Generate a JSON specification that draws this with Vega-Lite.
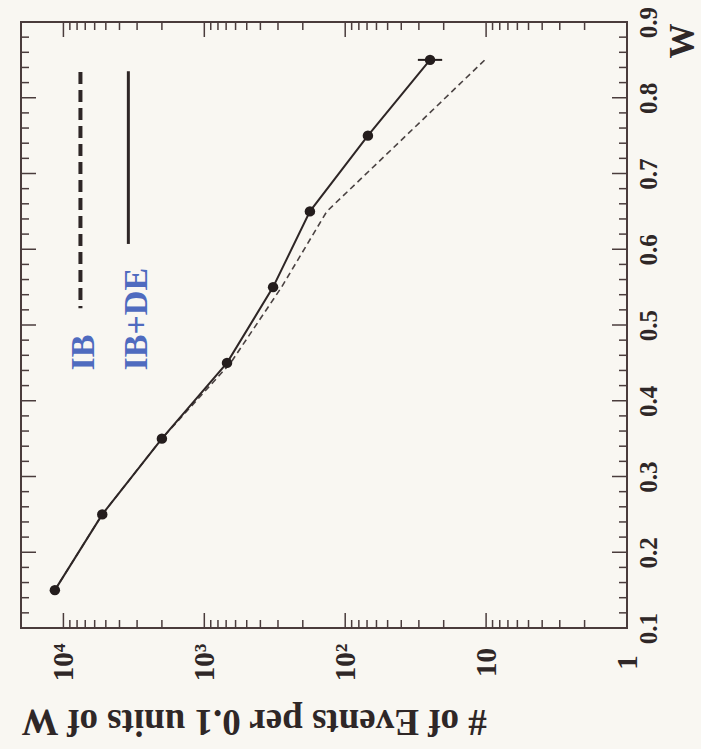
{
  "$schema": "https://vega.github.io/schema/vega-lite/v6.json",
  "width": 606,
  "height": 606,
  "autosize": {"type": "none"},
  "padding": {"left": 21, "top": 22, "right": 74, "bottom": 121},
  "background": "#f9f7f2",
  "config": {
    "view": {"stroke": "#4a3c3c", "strokeWidth": 2},
    "axis": {
      "grid": false,
      "domain": false,
      "labelFont": "Liberation Serif",
      "titleFont": "Liberation Serif",
      "labelFontWeight": "bold",
      "titleFontWeight": "bold",
      "labelColor": "#2f2727",
      "titleColor": "#2f2727"
    }
  },
  "datasets": {
    "curves": [
      {"model": "IB+DE", "W": 0.15, "events": 11500},
      {"model": "IB+DE", "W": 0.25, "events": 5300},
      {"model": "IB+DE", "W": 0.35, "events": 2000},
      {"model": "IB+DE", "W": 0.45, "events": 690},
      {"model": "IB+DE", "W": 0.55, "events": 325},
      {"model": "IB+DE", "W": 0.65, "events": 178},
      {"model": "IB+DE", "W": 0.75, "events": 69},
      {"model": "IB+DE", "W": 0.85, "events": 25},
      {"model": "IB", "W": 0.15, "events": 11500},
      {"model": "IB", "W": 0.25, "events": 5300},
      {"model": "IB", "W": 0.35, "events": 2000},
      {"model": "IB", "W": 0.45, "events": 650},
      {"model": "IB", "W": 0.55, "events": 283},
      {"model": "IB", "W": 0.65, "events": 135},
      {"model": "IB", "W": 0.75, "events": 37},
      {"model": "IB", "W": 0.85, "events": 10.2}
    ],
    "errors": [
      {"W": 0.85, "events": 30.5, "events2": 20.5}
    ],
    "legendLines": [
      {"model": "IB", "events": 7570, "W": 0.834, "W2": 0.522},
      {"model": "IB+DE", "events": 3460, "W": 0.835, "W2": 0.607}
    ],
    "legendText": [
      {"label": "IB", "events": 7100, "W": 0.44},
      {"label": "IB+DE", "events": 3000, "W": 0.44}
    ],
    "xTicks": [
      {"v": 1, "kind": "major"}, {"v": 10, "kind": "major"}, {"v": 100, "kind": "major"}, {"v": 1000, "kind": "major"}, {"v": 10000, "kind": "major"},
      {"v": 2, "kind": "minor"}, {"v": 3, "kind": "minor"}, {"v": 4, "kind": "minor"}, {"v": 5, "kind": "minor"}, {"v": 6, "kind": "minor"}, {"v": 7, "kind": "minor"}, {"v": 8, "kind": "minor"}, {"v": 9, "kind": "minor"},
      {"v": 20, "kind": "minor"}, {"v": 30, "kind": "minor"}, {"v": 40, "kind": "minor"}, {"v": 50, "kind": "minor"}, {"v": 60, "kind": "minor"}, {"v": 70, "kind": "minor"}, {"v": 80, "kind": "minor"}, {"v": 90, "kind": "minor"},
      {"v": 200, "kind": "minor"}, {"v": 300, "kind": "minor"}, {"v": 400, "kind": "minor"}, {"v": 500, "kind": "minor"}, {"v": 600, "kind": "minor"}, {"v": 700, "kind": "minor"}, {"v": 800, "kind": "minor"}, {"v": 900, "kind": "minor"},
      {"v": 2000, "kind": "minor"}, {"v": 3000, "kind": "minor"}, {"v": 4000, "kind": "minor"}, {"v": 5000, "kind": "minor"}, {"v": 6000, "kind": "minor"}, {"v": 7000, "kind": "minor"}, {"v": 8000, "kind": "minor"}, {"v": 9000, "kind": "minor"}
    ],
    "wTicks": [
      {"w": 0.2, "kind": "major"}, {"w": 0.3, "kind": "major"}, {"w": 0.4, "kind": "major"}, {"w": 0.5, "kind": "major"}, {"w": 0.6, "kind": "major"}, {"w": 0.7, "kind": "major"}, {"w": 0.8, "kind": "major"},
      {"w": 0.12, "kind": "minor"}, {"w": 0.14, "kind": "minor"}, {"w": 0.16, "kind": "minor"}, {"w": 0.18, "kind": "minor"},
      {"w": 0.22, "kind": "minor"}, {"w": 0.24, "kind": "minor"}, {"w": 0.26, "kind": "minor"}, {"w": 0.28, "kind": "minor"},
      {"w": 0.32, "kind": "minor"}, {"w": 0.34, "kind": "minor"}, {"w": 0.36, "kind": "minor"}, {"w": 0.38, "kind": "minor"},
      {"w": 0.42, "kind": "minor"}, {"w": 0.44, "kind": "minor"}, {"w": 0.46, "kind": "minor"}, {"w": 0.48, "kind": "minor"},
      {"w": 0.52, "kind": "minor"}, {"w": 0.54, "kind": "minor"}, {"w": 0.56, "kind": "minor"}, {"w": 0.58, "kind": "minor"},
      {"w": 0.62, "kind": "minor"}, {"w": 0.64, "kind": "minor"}, {"w": 0.66, "kind": "minor"}, {"w": 0.68, "kind": "minor"},
      {"w": 0.72, "kind": "minor"}, {"w": 0.74, "kind": "minor"}, {"w": 0.76, "kind": "minor"}, {"w": 0.78, "kind": "minor"},
      {"w": 0.82, "kind": "minor"}, {"w": 0.84, "kind": "minor"}, {"w": 0.86, "kind": "minor"}, {"w": 0.88, "kind": "minor"}
    ]
  },
  "resolve": {"axis": {"x": "independent", "y": "independent"}},
  "layer": [
    {
      "data": {"name": "curves"},
      "transform": [{"filter": "datum.model === 'IB'"}],
      "mark": {"type": "line", "color": "#4a4242", "strokeWidth": 1.6, "strokeDash": [6, 4]},
      "encoding": {
        "x": {
          "field": "events", "type": "quantitative",
          "scale": {"type": "log", "domain": [1, 20000], "reverse": true, "nice": false},
          "axis": {
            "orient": "bottom",
            "values": [1, 10, 100, 1000, 10000],
            "labelExpr": "datum.value == 10000 ? '10⁴' : datum.value == 1000 ? '10³' : datum.value == 100 ? '10²' : datum.value == 10 ? '10' : '1'",
            "labelAngle": 270,
            "labelAlign": "center",
            "labelBaseline": "middle",
            "labelFontSize": 29,
            "labelPadding": 34,
            "ticks": false,
            "tickSize": 0,
            "labelFlush": false,
            "labelOverlap": false,
            "title": "# of Events per 0.1 units of W",
            "titleFontSize": 37,
            "titleAngle": 180,
            "titleAlign": "right",
            "titleBaseline": "middle",
            "titleX": 0,
            "titleY": 92
          }
        },
        "y": {
          "field": "W", "type": "quantitative",
          "scale": {"domain": [0.1, 0.9], "nice": false, "zero": false},
          "axis": {
            "orient": "right",
            "values": [0.1, 0.2, 0.3, 0.4, 0.5, 0.6, 0.7, 0.8, 0.9],
            "format": ".1f",
            "labelAngle": 270,
            "labelAlign": "center",
            "labelBaseline": "middle",
            "labelFontSize": 25,
            "labelPadding": 21,
            "ticks": false,
            "tickSize": 0,
            "labelFlush": false,
            "labelOverlap": false,
            "title": "W",
            "titleFontSize": 35,
            "titleAngle": 270,
            "titleAlign": "right",
            "titleBaseline": "middle",
            "titleX": 55,
            "titleY": 1
          }
        }
      }
    },
    {
      "data": {"name": "xTicks"},
      "transform": [{"filter": "datum.kind === 'major'"}],
      "mark": {"type": "rule", "color": "#4a3c3c", "strokeWidth": 1.5},
      "encoding": {
        "x": {"field": "v", "type": "quantitative", "scale": {"type": "log", "domain": [1, 20000], "reverse": true, "nice": false}, "axis": null},
        "y": {"datum": 0.1, "type": "quantitative", "scale": {"domain": [0.1, 0.9], "nice": false, "zero": false}, "axis": null},
        "y2": {"datum": 0.1198}
      }
    },
    {
      "data": {"name": "xTicks"},
      "transform": [{"filter": "datum.kind === 'minor'"}],
      "mark": {"type": "rule", "color": "#4a3c3c", "strokeWidth": 1.5},
      "encoding": {
        "x": {"field": "v", "type": "quantitative", "scale": {"type": "log", "domain": [1, 20000], "reverse": true, "nice": false}, "axis": null},
        "y": {"datum": 0.1, "type": "quantitative", "scale": {"domain": [0.1, 0.9], "nice": false, "zero": false}, "axis": null},
        "y2": {"datum": 0.1106}
      }
    },
    {
      "data": {"name": "xTicks"},
      "transform": [{"filter": "datum.kind === 'major'"}],
      "mark": {"type": "rule", "color": "#4a3c3c", "strokeWidth": 1.5},
      "encoding": {
        "x": {"field": "v", "type": "quantitative", "scale": {"type": "log", "domain": [1, 20000], "reverse": true, "nice": false}, "axis": null},
        "y": {"datum": 0.9, "type": "quantitative", "scale": {"domain": [0.1, 0.9], "nice": false, "zero": false}, "axis": null},
        "y2": {"datum": 0.8802}
      }
    },
    {
      "data": {"name": "xTicks"},
      "transform": [{"filter": "datum.kind === 'minor'"}],
      "mark": {"type": "rule", "color": "#4a3c3c", "strokeWidth": 1.5},
      "encoding": {
        "x": {"field": "v", "type": "quantitative", "scale": {"type": "log", "domain": [1, 20000], "reverse": true, "nice": false}, "axis": null},
        "y": {"datum": 0.9, "type": "quantitative", "scale": {"domain": [0.1, 0.9], "nice": false, "zero": false}, "axis": null},
        "y2": {"datum": 0.8894}
      }
    },
    {
      "data": {"name": "wTicks"},
      "transform": [{"filter": "datum.kind === 'major'"}],
      "mark": {"type": "rule", "color": "#4a3c3c", "strokeWidth": 1.5},
      "encoding": {
        "y": {"field": "w", "type": "quantitative", "scale": {"domain": [0.1, 0.9], "nice": false, "zero": false}, "axis": null},
        "x": {"datum": 20000, "type": "quantitative", "scale": {"type": "log", "domain": [1, 20000], "reverse": true, "nice": false}, "axis": null},
        "x2": {"datum": 15650}
      }
    },
    {
      "data": {"name": "wTicks"},
      "transform": [{"filter": "datum.kind === 'minor'"}],
      "mark": {"type": "rule", "color": "#4a3c3c", "strokeWidth": 1.5},
      "encoding": {
        "y": {"field": "w", "type": "quantitative", "scale": {"domain": [0.1, 0.9], "nice": false, "zero": false}, "axis": null},
        "x": {"datum": 20000, "type": "quantitative", "scale": {"type": "log", "domain": [1, 20000], "reverse": true, "nice": false}, "axis": null},
        "x2": {"datum": 17550}
      }
    },
    {
      "data": {"name": "wTicks"},
      "transform": [{"filter": "datum.kind === 'major'"}],
      "mark": {"type": "rule", "color": "#4a3c3c", "strokeWidth": 1.5},
      "encoding": {
        "y": {"field": "w", "type": "quantitative", "scale": {"domain": [0.1, 0.9], "nice": false, "zero": false}, "axis": null},
        "x": {"datum": 1, "type": "quantitative", "scale": {"type": "log", "domain": [1, 20000], "reverse": true, "nice": false}, "axis": null},
        "x2": {"datum": 1.278}
      }
    },
    {
      "data": {"name": "wTicks"},
      "transform": [{"filter": "datum.kind === 'minor'"}],
      "mark": {"type": "rule", "color": "#4a3c3c", "strokeWidth": 1.5},
      "encoding": {
        "y": {"field": "w", "type": "quantitative", "scale": {"domain": [0.1, 0.9], "nice": false, "zero": false}, "axis": null},
        "x": {"datum": 1, "type": "quantitative", "scale": {"type": "log", "domain": [1, 20000], "reverse": true, "nice": false}, "axis": null},
        "x2": {"datum": 1.14}
      }
    },
    {
      "data": {"name": "curves"},
      "transform": [{"filter": "datum.model === 'IB+DE'"}],
      "mark": {"type": "line", "color": "#2e2626", "strokeWidth": 2},
      "encoding": {
        "x": {"field": "events", "type": "quantitative", "scale": {"type": "log", "domain": [1, 20000], "reverse": true, "nice": false}, "axis": null},
        "y": {"field": "W", "type": "quantitative", "scale": {"domain": [0.1, 0.9], "nice": false, "zero": false}, "axis": null}
      }
    },
    {
      "data": {"name": "curves"},
      "transform": [{"filter": "datum.model === 'IB+DE'"}],
      "mark": {"type": "circle", "color": "#241d1d", "size": 110, "opacity": 1},
      "encoding": {
        "x": {"field": "events", "type": "quantitative", "scale": {"type": "log", "domain": [1, 20000], "reverse": true, "nice": false}, "axis": null},
        "y": {"field": "W", "type": "quantitative", "scale": {"domain": [0.1, 0.9], "nice": false, "zero": false}, "axis": null}
      }
    },
    {
      "data": {"name": "errors"},
      "mark": {"type": "rule", "color": "#241d1d", "strokeWidth": 2},
      "encoding": {
        "x": {"field": "events", "type": "quantitative", "scale": {"type": "log", "domain": [1, 20000], "reverse": true, "nice": false}, "axis": null},
        "x2": {"field": "events2"},
        "y": {"field": "W", "type": "quantitative", "scale": {"domain": [0.1, 0.9], "nice": false, "zero": false}, "axis": null}
      }
    },
    {
      "data": {"name": "legendLines"},
      "transform": [{"filter": "datum.model === 'IB'"}],
      "mark": {"type": "rule", "color": "#2e2626", "strokeWidth": 4, "strokeDash": [12, 6]},
      "encoding": {
        "x": {"field": "events", "type": "quantitative", "scale": {"type": "log", "domain": [1, 20000], "reverse": true, "nice": false}, "axis": null},
        "y": {"field": "W", "type": "quantitative", "scale": {"domain": [0.1, 0.9], "nice": false, "zero": false}, "axis": null},
        "y2": {"field": "W2"}
      }
    },
    {
      "data": {"name": "legendLines"},
      "transform": [{"filter": "datum.model === 'IB+DE'"}],
      "mark": {"type": "rule", "color": "#2e2626", "strokeWidth": 3},
      "encoding": {
        "x": {"field": "events", "type": "quantitative", "scale": {"type": "log", "domain": [1, 20000], "reverse": true, "nice": false}, "axis": null},
        "y": {"field": "W", "type": "quantitative", "scale": {"domain": [0.1, 0.9], "nice": false, "zero": false}, "axis": null},
        "y2": {"field": "W2"}
      }
    },
    {
      "data": {"name": "legendText"},
      "mark": {"type": "text", "angle": 270, "align": "left", "baseline": "middle", "font": "Liberation Serif", "fontWeight": "bold", "fontSize": 34, "color": "#4f6bbf"},
      "encoding": {
        "x": {"field": "events", "type": "quantitative", "scale": {"type": "log", "domain": [1, 20000], "reverse": true, "nice": false}, "axis": null},
        "y": {"field": "W", "type": "quantitative", "scale": {"domain": [0.1, 0.9], "nice": false, "zero": false}, "axis": null},
        "text": {"field": "label"}
      }
    }
  ]
}
